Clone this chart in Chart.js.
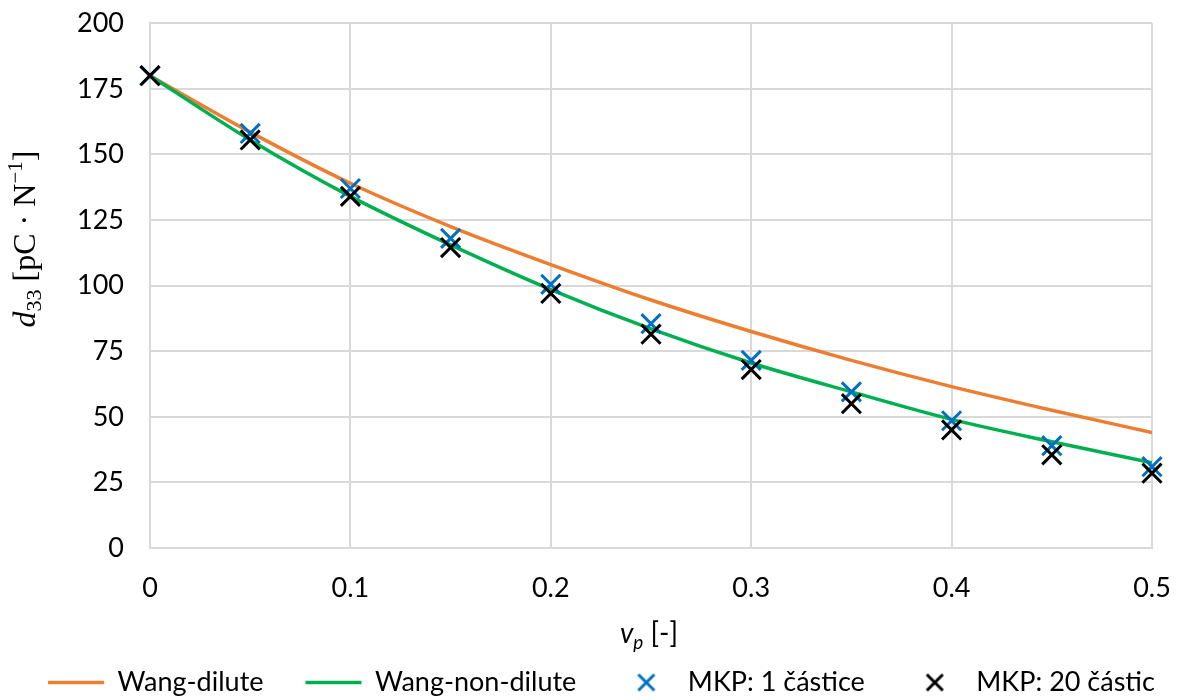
<!DOCTYPE html>
<html>
<head>
<meta charset="utf-8">
<script src="https://cdn.jsdelivr.net/npm/chart.js@4.4.1/dist/chart.umd.min.js"></script>
<style>
  html, body { margin: 0; padding: 0; background: #fff; }
  #wrap { width: 1203px; height: 700px; }
</style>
</head>
<body>
<div id="wrap"><canvas id="d33Chart"></canvas></div>
<script>
// volume fraction of particles
var vp = [0, 0.05, 0.1, 0.15, 0.2, 0.25, 0.3, 0.35, 0.4, 0.45, 0.5];
// d33 [pC/N]
var wangDilute    = [180, 158.5, 139, 122.5, 108, 94.5, 82.5, 71.5, 61.5, 52.5, 44];
var wangNonDilute = [180, 155.5, 134, 115.5, 98.5, 83.5, 70.5, 59.5, 49, 40.5, 32.5];
var mkp1          = [180, 158, 137, 118, 100.5, 85.5, 71.5, 59.5, 48.5, 39, 31];
var mkp20         = [180, 155.5, 134, 114.5, 97, 81.5, 68, 55, 45, 35.5, 28.5];
var seriesNames = ['Wang-dilute', 'Wang-non-dilute', 'MKP: 1 částice', 'MKP: 20 částic'];
var yTicks = [0, 25, 50, 75, 100, 125, 150, 175, 200];
var xTicks = [0, 0.1, 0.2, 0.3, 0.4, 0.5];

var FONT = 'Lato';
var LEGEND_FONT = 27, LEGEND_PAD = 42, PAD_BOTTOM = -6;
var PLOT_BOTTOM = 548;

function pts(ys) {
  return vp.map(function (x, i) { return { x: x, y: ys[i] }; });
}

// small "x" marker for the legend
function crossMark(color) {
  var c = document.createElement('canvas');
  c.width = 22; c.height = 22;
  var g = c.getContext('2d');
  g.strokeStyle = color;
  g.lineWidth = 3;
  g.beginPath();
  g.moveTo(3, 3); g.lineTo(19, 19);
  g.moveTo(19, 3); g.lineTo(3, 19);
  g.stroke();
  return c;
}
var legendMarks = { 2: crossMark('#0070C0'), 3: crossMark('#000000') };

// draws a title made of pieces (italic letters, subscripts), centred on (x, y) baseline
function drawParts(ctx, parts, x, y, rot) {
  var total = 0;
  parts.forEach(function (p) { ctx.font = p.f; p.w = ctx.measureText(p.t).width; total += p.w; });
  ctx.save();
  ctx.translate(x, y);
  ctx.rotate(rot);
  var cur = -total / 2;
  parts.forEach(function (p) {
    ctx.font = p.f;
    ctx.fillText(p.t, cur, p.dy);
    cur += p.w;
  });
  ctx.restore();
}

var axisTitles = {
  id: 'axisTitles',
  afterDraw: function (chart) {
    var ctx = chart.ctx;
    ctx.save();
    ctx.fillStyle = '#000';
    ctx.textBaseline = 'alphabetic';
    ctx.textAlign = 'left';
    drawParts(ctx, [
      { t: 'd', f: 'italic 32px "Liberation Serif"', dy: 0 },
      { t: '33', f: '22px "Liberation Serif"', dy: 6 },
      { t: ' [pC · N', f: '32px "Liberation Serif"', dy: 0 },
      { t: '−1', f: '21px "Liberation Serif"', dy: -13 },
      { t: ']', f: '32px "Liberation Serif"', dy: 0 }
    ], 35, 239, -Math.PI / 2);
    drawParts(ctx, [
      { t: 'v', f: 'italic 28px ' + FONT, dy: 0 },
      { t: 'p', f: 'italic 19px ' + FONT, dy: 6 },
      { t: ' [-]', f: '28px ' + FONT, dy: 0 }
    ], 649, 643, 0);
    ctx.restore();
  }
};

var ctx = document.getElementById('d33Chart').getContext('2d');
var chart = new Chart(ctx, {
  type: 'scatter',
  data: {
    datasets: [
      {
        label: seriesNames[0],
        type: 'line',
        data: pts(wangDilute),
        borderColor: '#ED7D31',
        backgroundColor: '#ED7D31',
        borderWidth: 3.5,
        pointRadius: 0,
        pointStyle: 'line',
        cubicInterpolationMode: 'monotone',
        fill: false,
        order: 3
      },
      {
        label: seriesNames[1],
        type: 'line',
        data: pts(wangNonDilute),
        borderColor: '#00B050',
        backgroundColor: '#00B050',
        borderWidth: 3.5,
        pointRadius: 0,
        pointStyle: 'line',
        cubicInterpolationMode: 'monotone',
        fill: false,
        order: 2
      },
      {
        label: seriesNames[2],
        data: pts(mkp1),
        pointStyle: 'crossRot',
        pointRadius: 13.5,
        pointHoverRadius: 13.5,
        borderColor: '#0070C0',
        backgroundColor: '#0070C0',
        borderWidth: 3,
        clip: false,
        order: 1
      },
      {
        label: seriesNames[3],
        data: pts(mkp20),
        pointStyle: 'crossRot',
        pointRadius: 13.5,
        pointHoverRadius: 13.5,
        borderColor: '#000000',
        backgroundColor: '#000000',
        borderWidth: 3,
        clip: false,
        order: 0
      }
    ]
  },
  options: {
    responsive: true,
    maintainAspectRatio: false,
    animation: false,
    layout: { padding: { left: 0, right: 0, top: 3, bottom: PAD_BOTTOM } },
    plugins: {
      tooltip: { enabled: false },
      legend: {
        position: 'bottom',
        labels: {
          usePointStyle: true,
          pointStyleWidth: 56,
          padding: LEGEND_PAD,
          color: '#000',
          font: { family: FONT, size: LEGEND_FONT },
          sort: function (a, b) { return a.datasetIndex - b.datasetIndex; },
          generateLabels: function (c) {
            var items = Chart.defaults.plugins.legend.labels.generateLabels(c);
            items.forEach(function (it) {
              if (legendMarks[it.datasetIndex]) it.pointStyle = legendMarks[it.datasetIndex];
            });
            return items;
          }
        }
      }
    },
    scales: {
      x: {
        type: 'linear',
        min: 0,
        max: 0.5,
        grid: { color: '#d9d9d9', lineWidth: 2, drawTicks: false },
        border: { color: '#d9d9d9', width: 2 },
        afterBuildTicks: function (s) { s.ticks = xTicks.map(function (v) { return { value: v }; }); },
        ticks: {
          padding: 24,
          color: '#000',
          font: { family: FONT, size: 27 },
          callback: function (v) { return String(Math.round(v * 10) / 10); }
        },
        afterFit: function (s) {
          var legendH = LEGEND_FONT + LEGEND_PAD + 10;
          s.height = 700 - PLOT_BOTTOM - legendH - PAD_BOTTOM;
        }
      },
      y: {
        min: 0,
        max: 200,
        // invisible tick marks give the label gap without pushing the plot top down
        grid: { color: '#d9d9d9', lineWidth: 2, drawTicks: true, tickLength: 19, tickColor: 'rgba(0,0,0,0)' },
        border: { color: '#d9d9d9', width: 2 },
        afterBuildTicks: function (s) { s.ticks = yTicks.map(function (v) { return { value: v }; }); },
        ticks: {
          padding: 7,
          color: '#000',
          font: { family: FONT, size: 27 }
        },
        afterFit: function (s) { s.width = 150; }
      },
      // empty right-hand margin so the legend can use the full width
      yRight: {
        position: 'right',
        min: 0,
        max: 200,
        grid: { display: false, drawTicks: false },
        border: { display: false },
        ticks: { display: false },
        afterFit: function (s) { s.width = 51; }
      }
    }
  },
  plugins: [axisTitles]
});
</script>
</body>
</html>
